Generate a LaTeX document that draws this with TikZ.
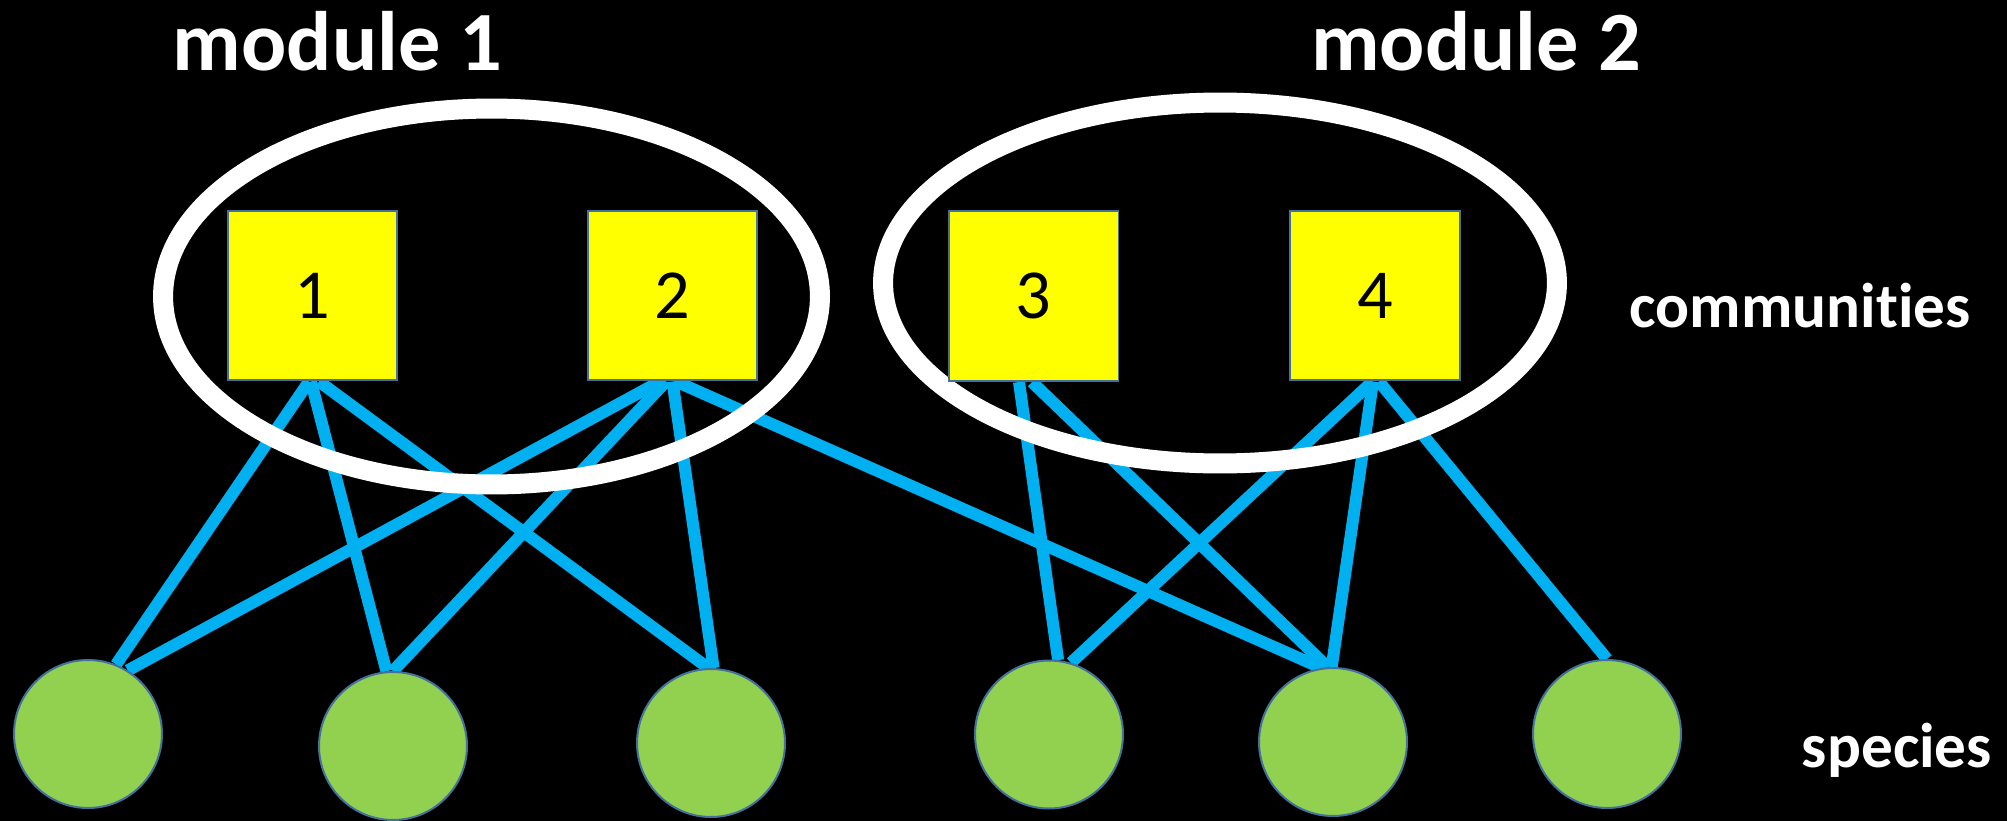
\documentclass[tikz,border=0pt]{standalone}
\usepackage{fontspec}
\setmainfont{Carlito}[Ligatures=NoCommon]
\usetikzlibrary{shapes.geometric,calc}
\pgfdeclarelayer{bg}
\pgfdeclarelayer{lines}
\pgfsetlayers{bg,lines,main}
\definecolor{linkblue}{HTML}{00B0F0}
\definecolor{commyellow}{HTML}{FFFF00}
\definecolor{speciesgreen}{HTML}{92D050}
\definecolor{edgeblue}{HTML}{41719C}
\tikzset{
  community/.style={rectangle, draw=edgeblue, fill=commyellow, line width=0.04cm,
    minimum width=3.4cm, minimum height=3.4cm, inner sep=0pt,
    font=\fontsize{40}{44}\selectfont, text=black},
  species/.style={circle, draw=edgeblue, fill=speciesgreen, line width=0.04cm,
    minimum size=2.96cm, inner sep=0pt},
  module/.style={ellipse, draw=white, line width=0.4cm, inner sep=0pt},
  link/.style={draw=linkblue, line width=0.24cm},
  title/.style={text=white, font=\bfseries\fontsize{48}{52}\selectfont, anchor=base, inner sep=0pt},
  label/.style={text=white, font=\bfseries\fontsize{36}{40}\selectfont, anchor=base, inner sep=0pt}
}
\begin{document}
\begin{tikzpicture}[x=0.02cm,y=-0.02cm]
\begin{pgfonlayer}{bg}
\fill[black] (0,0) rectangle (2007,821);
\end{pgfonlayer}
\useasboundingbox (0,0) rectangle (2007,821);

% titles and labels
\node[title] (t1) at (337.5,71) {module 1};
\node[title] (t2) at (1476,71) {module 2};
\node[label] (lc) at (1800,327) {communities};
\node[label] (ls) at (1897,767) {species};

% modules
\node[module, minimum width=13.14cm, minimum height=7.52cm] (m1) at (491.5,296.5) {};
\node[module, minimum width=13.48cm, minimum height=7.22cm] (m2) at (1220,283) {};

% communities
\node[community] (s1) at (312.5,295.5) {1};
\node[community] (s2) at (672.5,295.5) {2};
\node[community] (s3) at (1033.5,296) {3};
\node[community] (s4) at (1375,295.5) {4};

% species
\node[species] (c1) at (88,734) {};
\node[species] (c2) at (393,746) {};
\node[species] (c3) at (711,743) {};
\node[species] (c4) at (1049,734.5) {};
\node[species] (c5) at (1333,742) {};
\node[species] (c6) at (1607,734) {};

\begin{pgfonlayer}{lines}
\draw[link] ([xshift=-0.07cm]s1.south) -- (c1.68);
\draw[link] ([xshift=-0.03cm]s1.south) -- (c2.95);
\draw[link] ([xshift=0.13cm]s1.south) -- (c3.92);
\draw[link] ([xshift=-0.25cm]s2.south) -- (c1.58);
\draw[link] ([xshift=-0.13cm]s2.south) -- (c2.90);
\draw[link] (s2.south) -- (c3.88);
\draw[link] ([xshift=0.07cm]s2.south) -- (c5.99);
\draw[link] ([xshift=-0.29cm]s3.south) -- (c4.83);
\draw[link] ([xshift=-0.03cm]s3.south) -- (c5.94);
\draw[link] ([xshift=-0.05cm]s4.south) -- (c4.73);
\draw[link] ([xshift=-0.04cm]s4.south) -- (c5.91);
\draw[link] ([xshift=0.08cm]s4.south) -- (c6.90);
\end{pgfonlayer}
\end{tikzpicture}
\end{document}
